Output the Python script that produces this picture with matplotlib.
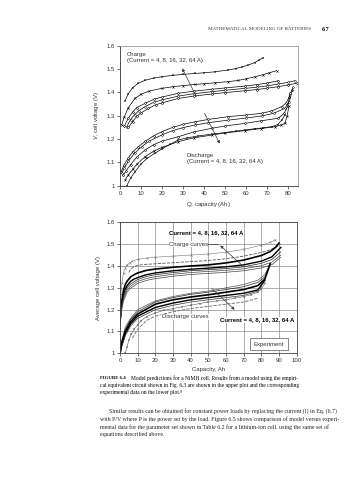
import matplotlib
matplotlib.use("Agg")
import matplotlib.pyplot as plt

plt.rcParams["mathtext.fontset"] = "custom"
plt.rcParams["mathtext.it"] = "Liberation Sans:italic"
plt.rcParams["mathtext.rm"] = "Liberation Sans"

# --- upper plot: model predictions (Q in Ah, V in volts) ---
chg64_q = [2.4, 4, 6, 8.7, 12, 16, 19.8, 25, 30, 35.7, 40, 45, 51.5, 55, 58, 61, 64, 66, 68.1]
chg64_v = [1.364, 1.395, 1.42, 1.439, 1.452, 1.461, 1.467, 1.473, 1.477, 1.481, 1.484, 1.488, 1.496, 1.502, 1.509, 1.517, 1.528, 1.537, 1.549]
chg32_q = [0.8, 2, 4, 7.1, 10, 14, 19.8, 25, 30, 35.7, 40, 45, 51.5, 56, 60, 64.2, 68, 71, 74.5]
chg32_v = [1.26, 1.295, 1.335, 1.374, 1.392, 1.406, 1.417, 1.424, 1.429, 1.434, 1.437, 1.441, 1.446, 1.451, 1.458, 1.467, 1.476, 1.484, 1.493]
chg16_q = [2.1, 4, 6, 8, 11.9, 16, 20, 27.7, 35, 43.6, 50, 59.4, 65, 70, 75.3]
chg16_v = [1.256, 1.29, 1.316, 1.335, 1.353, 1.37, 1.38, 1.396, 1.405, 1.413, 1.419, 1.427, 1.433, 1.44, 1.45]
chg8_q = [3.2, 5, 7, 9, 11.9, 16, 20, 27.7, 35, 43.6, 50, 59.4, 65, 70, 75, 80, 83.2]
chg8_v = [1.253, 1.283, 1.305, 1.322, 1.339, 1.357, 1.368, 1.384, 1.394, 1.403, 1.409, 1.417, 1.422, 1.428, 1.435, 1.443, 1.45]
chg4_q = [4, 6, 8, 10, 13.5, 17, 20, 27.7, 35, 43.6, 50, 59.4, 65, 70, 75, 80, 84]
chg4_v = [1.25, 1.275, 1.297, 1.312, 1.331, 1.347, 1.355, 1.374, 1.384, 1.393, 1.399, 1.407, 1.412, 1.418, 1.424, 1.432, 1.439]

dis4_q = [0.5, 2, 4, 6, 8.7, 12, 16, 19.8, 25, 30, 35.7, 42, 51.5, 60, 67.4, 72, 76.9, 79, 80.5, 81.6]
dis4_v = [1.06, 1.09, 1.12, 1.145, 1.167, 1.19, 1.214, 1.231, 1.25, 1.263, 1.274, 1.284, 1.296, 1.303, 1.31, 1.32, 1.339, 1.355, 1.38, 1.41]
dis8_q = [0.8, 2, 4, 7, 10.3, 14, 19.8, 25, 30, 35.7, 42, 51.5, 60, 67.4, 73, 78.4, 80.5, 82.4]
dis8_v = [1.053, 1.075, 1.105, 1.14, 1.167, 1.192, 1.217, 1.236, 1.249, 1.26, 1.27, 1.281, 1.29, 1.299, 1.31, 1.331, 1.36, 1.424]
dis16_q = [1.6, 3, 5, 8, 11.9, 16, 20, 27.7, 35, 43.6, 50, 59.4, 67, 75.3, 78, 79.8, 80.8]
dis16_v = [1.046, 1.065, 1.09, 1.123, 1.153, 1.176, 1.191, 1.21, 1.23, 1.246, 1.256, 1.267, 1.278, 1.289, 1.31, 1.34, 1.396]
dis32_q = [2.4, 4, 6, 8, 11.9, 16, 20, 27.7, 35, 43.6, 50, 59.4, 67, 73.9, 76.5, 78.4, 79.5, 80.3]
dis32_v = [1.024, 1.047, 1.07, 1.092, 1.124, 1.148, 1.164, 1.189, 1.205, 1.217, 1.226, 1.236, 1.245, 1.253, 1.26, 1.267, 1.3, 1.34]
dis64_q = [3.2, 5, 7.1, 10, 13, 16.6, 20, 24, 27.7, 32, 37, 43.6, 50, 55, 59.4, 64, 68, 72.1, 75, 76.9, 78.4]
dis64_v = [1.0, 1.032, 1.06, 1.093, 1.118, 1.139, 1.158, 1.178, 1.196, 1.205, 1.213, 1.221, 1.228, 1.234, 1.239, 1.244, 1.248, 1.253, 1.262, 1.281, 1.303]

# --- lower plot: experiment ---
bch_dot_q = [0, 0.5, 1, 2, 3, 4, 5.5, 7, 10, 15, 20, 30, 40, 50, 60, 70, 80, 85, 88]
bch_dot_v = [1.18, 1.27, 1.32, 1.37, 1.39, 1.405, 1.415, 1.422, 1.43, 1.436, 1.44, 1.445, 1.45, 1.455, 1.463, 1.476, 1.495, 1.508, 1.52]
bch_dash_q = [5, 6, 8, 10, 14, 20, 30, 40, 50, 60, 70, 80, 85, 88, 91]
bch_dash_v = [1.37, 1.385, 1.397, 1.403, 1.407, 1.41, 1.415, 1.42, 1.425, 1.433, 1.445, 1.462, 1.474, 1.485, 1.50]
bch_b1_q = [0, 0.5, 1, 2, 3, 4, 6, 8, 10, 15, 20, 30, 40, 50, 60, 70, 80, 85, 88, 90]
bch_b1_v = [1.15, 1.2, 1.24, 1.29, 1.315, 1.33, 1.35, 1.36, 1.368, 1.38, 1.386, 1.394, 1.40, 1.405, 1.414, 1.427, 1.448, 1.466, 1.485, 1.505]
bch_b2_q = [0, 0.5, 1, 2, 3, 4, 6, 8, 10, 15, 20, 30, 40, 50, 60, 70, 80, 86, 91]
bch_b2_v = [1.14, 1.19, 1.225, 1.27, 1.295, 1.31, 1.33, 1.34, 1.347, 1.36, 1.368, 1.378, 1.385, 1.39, 1.396, 1.405, 1.422, 1.442, 1.485]
bch_t_q = [0, 1, 2, 4, 6, 10, 15, 20, 30, 40, 50, 60, 70, 80, 86, 91]
bch_t1_v = [1.14, 1.22, 1.26, 1.30, 1.318, 1.338, 1.352, 1.36, 1.37, 1.378, 1.383, 1.388, 1.396, 1.412, 1.43, 1.465]
bch_t2_v = [1.13, 1.21, 1.25, 1.29, 1.308, 1.329, 1.343, 1.351, 1.362, 1.37, 1.375, 1.38, 1.387, 1.401, 1.418, 1.45]
bch_t3_v = [1.12, 1.20, 1.24, 1.28, 1.298, 1.32, 1.334, 1.342, 1.353, 1.361, 1.366, 1.371, 1.378, 1.391, 1.406, 1.44]

bdis_q = [0, 1, 3, 6, 10, 20, 30, 40, 50, 60, 70, 78, 82, 85]
bdis_t1_v = [1.0, 1.06, 1.12, 1.16, 1.20, 1.24, 1.26, 1.275, 1.285, 1.30, 1.315, 1.335, 1.36, 1.41]
bdis_t2_v = [1.0, 1.05, 1.11, 1.155, 1.19, 1.235, 1.255, 1.27, 1.28, 1.292, 1.305, 1.325, 1.35, 1.41]
bdis_b1_v = [1.0, 1.05, 1.10, 1.145, 1.18, 1.225, 1.245, 1.258, 1.268, 1.28, 1.292, 1.31, 1.34, 1.41]
bdis_b2_q = [0, 1, 3, 6, 10, 20, 30, 40, 50, 60, 70, 78, 82]
bdis_b2_v = [0.995, 1.04, 1.09, 1.135, 1.17, 1.21, 1.23, 1.245, 1.255, 1.265, 1.275, 1.29, 1.335]
bdis_t3_q = [1, 3, 6, 10, 20, 30, 40, 50, 60, 70, 78, 81]
bdis_t3_v = [1.03, 1.08, 1.125, 1.16, 1.20, 1.22, 1.235, 1.245, 1.255, 1.265, 1.285, 1.32]
bdis_pl_q = [3, 4, 5, 6.5, 8, 10, 12, 15, 20, 25, 30, 35, 40, 45, 50, 55, 60, 65, 70, 74, 78, 80, 82]
bdis_pl_v = [1.0, 1.03, 1.06, 1.09, 1.11, 1.13, 1.15, 1.168, 1.185, 1.197, 1.205, 1.213, 1.22, 1.228, 1.235, 1.24, 1.245, 1.252, 1.26, 1.268, 1.28, 1.295, 1.32]
bdis_dash_q = [7, 10, 15, 20, 30, 40, 50, 60, 70, 78]
bdis_dash_v = [1.07, 1.11, 1.15, 1.17, 1.19, 1.205, 1.215, 1.225, 1.235, 1.252]

yticks = [1, 1.1, 1.2, 1.3, 1.4, 1.5, 1.6]
ytick_labels = ["1", "1.1", "1.2", "1.3", "1.4", "1.5", "1.6"]
top_xticks = [0, 10, 20, 30, 40, 50, 60, 70, 80]
bot_xticks = [0, 10, 20, 30, 40, 50, 60, 70, 80, 90, 100]
cur_text = "Current = 4, 8, 16, 32, 64 A"

sans = "Liberation Sans"
serif = "Liberation Serif"
fs = 4.3

fig = plt.figure(figsize=(3.57, 4.8), dpi=100)

# ---------- top plot ----------
ax = fig.add_axes([120/357, 1-185.7/480, 177.7/357, 140/480])
mk = dict(color="black", lw=0.5, ms=1.6, mew=0.35)
mk_open = dict(mk, ms=1.3, mfc="white")
ax.plot(chg64_q, chg64_v, marker="+", **mk)
ax.plot(chg32_q, chg32_v, marker="x", **mk)
ax.plot(chg16_q, chg16_v, marker="D", **mk_open)
ax.plot(chg8_q, chg8_v, marker="o", **mk_open)
ax.plot(chg4_q, chg4_v, marker="D", **mk_open)
ax.plot(dis4_q, dis4_v, marker="D", **mk_open)
ax.plot(dis8_q, dis8_v, marker="o", **mk_open)
ax.plot(dis16_q, dis16_v, marker="D", **mk_open)
ax.plot(dis32_q, dis32_v, marker="x", **mk)
ax.plot(dis64_q, dis64_v, marker="+", **mk)
ax.set_xlim(0, 84.5)
ax.set_ylim(1, 1.6)
ax.set_xticks(top_xticks)
ax.set_yticks(yticks)
ax.set_yticklabels(ytick_labels)
for s in ["top", "right"]:
    ax.spines[s].set_color("#9a9a9a")
for s in ["left", "bottom"]:
    ax.spines[s].set_color("#333333")
for s in ax.spines.values():
    s.set_linewidth(0.6)
ax.tick_params(length=2, width=0.5, pad=1.5, labelsize=fs, colors="#333333")
for t in ax.get_xticklabels() + ax.get_yticklabels():
    t.set_family(sans)
ax.set_xlabel("$\\it{Q}$, capacity (Ah)", fontsize=fs, family=sans, labelpad=3, color="#333333")
ax.set_ylabel("$\\it{V}$, cell voltage (V)", fontsize=fs, family=sans, labelpad=4, color="#333333")
ax.text(3.2, 1.563, "Charge", fontsize=fs, family=sans, va="center", color="#333333")
ax.text(3.2, 1.536, "(" + cur_text + ")", fontsize=fs, family=sans, va="center", color="#333333")
ax.text(31.7, 1.131, "Discharge", fontsize=fs, family=sans, va="center", color="#333333")
ax.text(31.7, 1.103, "(" + cur_text + ")", fontsize=fs, family=sans, va="center", color="#333333")
arr = dict(arrowstyle="-|>", lw=0.5, color="#333333", mutation_scale=4)
ax.annotate("", xy=(29, 1.513), xytext=(36.9, 1.371), arrowprops=arr)
ax.annotate("", xy=(48, 1.17), xytext=(39.6, 1.321), arrowprops=arr)

# ---------- bottom plot ----------
bx = fig.add_axes([120/357, 1-353.3/480, 176.7/357, 131/480])
bx.grid(True, color="#8c8c8c", lw=0.5)
bx.set_axisbelow(True)
bx.plot(bch_dot_q, bch_dot_v, color="#777777", lw=0.4, marker="x", ms=1.4, mew=0.35)
bx.plot(bch_dash_q, bch_dash_v, color="#555555", lw=0.6, ls=(0, (4, 1.5)))
bx.plot(bch_b1_q, bch_b1_v, color="black", lw=1.2)
bx.plot(bch_b2_q, bch_b2_v, color="black", lw=1.0)
bx.plot(bch_t_q, bch_t1_v, color="#222222", lw=0.5)
bx.plot(bch_t_q, bch_t2_v, color="#444444", lw=0.5)
bx.plot(bch_t_q, bch_t3_v, color="#444444", lw=0.5)
bx.plot(bdis_q, bdis_t1_v, color="#555555", lw=0.5)
bx.plot(bdis_q, bdis_t2_v, color="#222222", lw=0.5)
bx.plot(bdis_q, bdis_b1_v, color="black", lw=1.2)
bx.plot(bdis_b2_q, bdis_b2_v, color="black", lw=1.0)
bx.plot(bdis_t3_q, bdis_t3_v, color="#333333", lw=0.5)
bx.plot(bdis_pl_q, bdis_pl_v, color="#555555", lw=0.4, marker="+", ms=1.4, mew=0.35)
bx.plot(bdis_dash_q, bdis_dash_v, color="#666666", lw=0.6, ls=(0, (4, 1.5)))
bx.set_xlim(0, 100)
bx.set_ylim(1, 1.6)
bx.set_xticks(bot_xticks)
bx.set_yticks(yticks)
bx.set_yticklabels(ytick_labels)
for s in bx.spines.values():
    s.set_color("#444444")
    s.set_linewidth(0.6)
bx.tick_params(length=2, width=0.5, pad=1.5, labelsize=fs, colors="#333333")
for t in bx.get_xticklabels() + bx.get_yticklabels():
    t.set_family(sans)
bx.set_xlabel("Capacity, Ah", fontsize=fs, family=sans, labelpad=3, color="#333333")
bx.set_ylabel("Average cell voltage (V)", fontsize=fs, family=sans, labelpad=4, color="#333333")
bx.text(27.7, 1.554, cur_text, fontsize=fs, family=sans, weight="bold", va="center")
bx.text(27.7, 1.499, "Charge curves", fontsize=fs, family=sans, va="center", color="#333333",
        bbox=dict(fc="white", ec="none", pad=0.3))
bx.plot([49, 55.6], [1.502, 1.502], color="#333333", lw=0.5)
bx.annotate("", xy=(55.6, 1.502), xytext=(71, 1.389), arrowprops=arr)
bx.text(23.6, 1.168, "Discharge curves", fontsize=fs, family=sans, va="center", color="#333333",
        bbox=dict(fc="white", ec="none", pad=0.3))
bx.annotate("", xy=(66, 1.191), xytext=(50.9, 1.305), arrowprops=arr)
bx.text(56.6, 1.152, cur_text, fontsize=fs, family=sans, weight="bold", va="center",
        bbox=dict(fc="white", ec="none", pad=0.3))
bx.text(84.4, 1.041, "Experiment", fontsize=fs, family=sans, ha="center", va="center", color="#333333",
        bbox=dict(fc="white", ec="#555555", lw=0.5, boxstyle="square,pad=0.6"))

# ---------- page text ----------
fig.text(208/357, 1-29.3/480, "MATHEMATICAL MODELING OF BATTERIES", fontsize=3.65, family=serif,
         va="center", color="#333333")
fig.text(321.5/357, 1-29.3/480, "6.7", fontsize=4.4, family=serif, weight="bold", va="center")

cap_fs = 4.0
fig.text(100/357, 1-378.3/480, "FIGURE 6.4", fontsize=3.4, family=serif, weight="bold", va="center")
fig.text(130.7/357, 1-378.3/480, "Model predictions for a NiMH cell. Results from a model using the empiri-",
         fontsize=cap_fs, family=serif, va="center")
fig.text(100/357, 1-385.3/480, "cal equivalent circuit shown in Fig. 6.3 are shown in the upper plot and the corresponding",
         fontsize=cap_fs, family=serif, va="center")
fig.text(100/357, 1-392.3/480, "experimental data on the lower plot.\u2078", fontsize=cap_fs,
         family=[serif, "DejaVu Serif"], va="center")

par_fs = 4.25
par = [
    (109.3, 411.0, "Similar results can be obtained for constant power loads by replacing the current (I) in Eq. (6.7)"),
    (100, 419.0, "with P/V where P is the power set by the load. Figure 6.5 shows comparison of model versus experi-"),
    (100, 426.7, "mental data for the parameter set shown in Table 6.2 for a lithium-ion cell, using the same set of"),
    (100, 434.3, "equations described above."),
]
for x, y, s in par:
    fig.text(x/357, 1-y/480, s, fontsize=par_fs, family=serif, va="center", color="#222222")

fig.savefig("out.png", dpi=100)
